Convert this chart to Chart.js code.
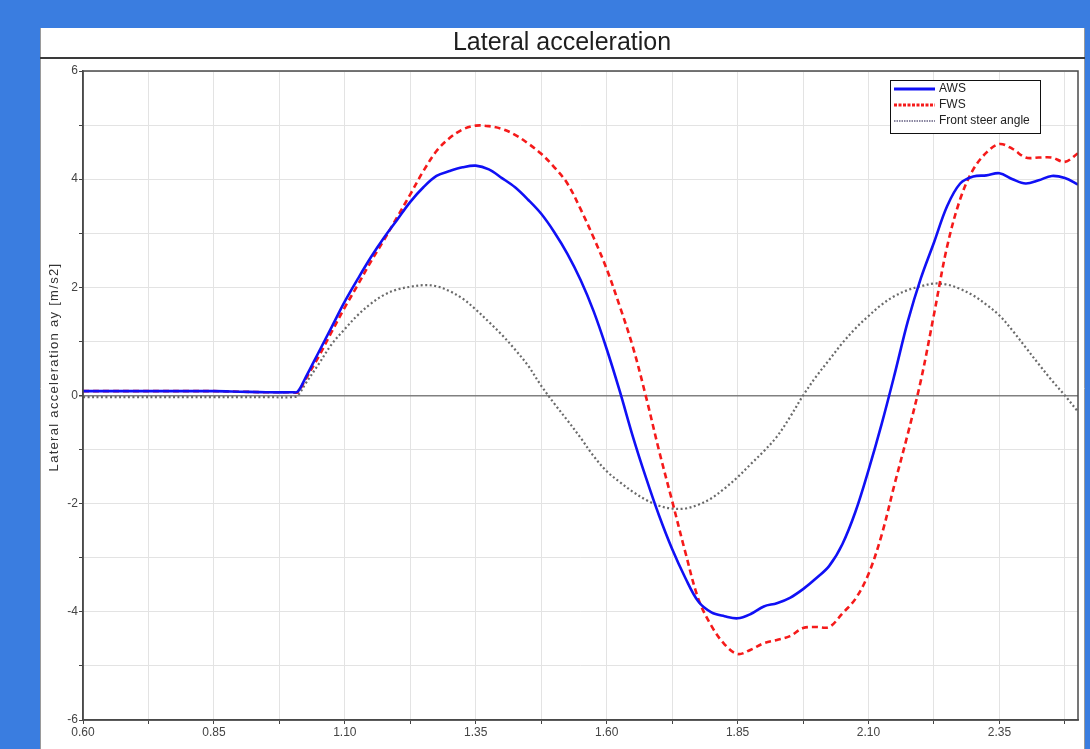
<!DOCTYPE html>
<html><head><meta charset="utf-8">
<script src="https://cdn.jsdelivr.net/npm/chart.js@4.4.1/dist/chart.umd.min.js"></script>
<style>html,body{margin:0;padding:0;background:#3a7de0;overflow:hidden}canvas{display:block}</style>
</head><body><canvas id="c" width="1090" height="749"></canvas>
<script>
const chartTitle = 'Lateral acceleration';
const yTitle = 'Lateral acceleration ay [m/s2]';
const xTitle = 'Time [s]';
const seriesLabels = ['AWS', 'FWS', 'Front steer angle'];

const time = [0.60,0.65,0.70,0.75,0.80,0.85,0.90,0.95,1.00,1.01,
  1.025,1.05,1.075,1.10,1.125,1.15,1.175,1.20,1.225,1.25,
  1.275,1.30,1.325,1.35,1.375,1.40,1.425,1.45,1.475,1.50,
  1.525,1.55,1.575,1.60,1.625,1.65,1.675,1.70,1.725,1.75,
  1.775,1.80,1.825,1.85,1.875,1.90,1.925,1.95,1.975,2.00,
  2.025,2.05,2.075,2.10,2.125,2.15,2.175,2.20,2.225,2.25,
  2.275,2.30,2.325,2.35,2.375,2.40,2.425,2.45,2.475,2.50];

const aws = [0.08,0.08,0.08,0.08,0.08,0.08,0.07,0.06,0.06,0.07,
  0.33,0.80,1.27,1.74,2.16,2.56,2.92,3.25,3.58,3.85,
  4.06,4.15,4.22,4.25,4.18,4.02,3.85,3.62,3.36,3.02,
  2.62,2.14,1.56,0.86,0.08,-0.76,-1.52,-2.22,-2.84,-3.37,
  -3.81,-4.01,-4.08,-4.12,-4.04,-3.90,-3.84,-3.74,-3.58,-3.38,
  -3.15,-2.75,-2.15,-1.38,-0.53,0.40,1.37,2.17,2.83,3.50,
  3.92,4.05,4.07,4.11,4.00,3.92,3.98,4.06,4.02,3.90];

const fws = [0.08,0.08,0.08,0.08,0.08,0.08,0.07,0.06,0.06,0.06,
  0.30,0.72,1.18,1.63,2.05,2.48,2.88,3.30,3.72,4.15,
  4.52,4.76,4.92,4.99,4.98,4.93,4.82,4.66,4.47,4.22,
  3.92,3.45,2.92,2.34,1.65,0.90,-0.02,-1.02,-1.95,-2.89,
  -3.76,-4.26,-4.60,-4.78,-4.70,-4.58,-4.52,-4.45,-4.30,-4.28,
  -4.28,-4.03,-3.76,-3.30,-2.58,-1.63,-0.71,0.28,1.50,2.75,
  3.63,4.18,4.49,4.65,4.56,4.40,4.40,4.40,4.32,4.48];

const steer = [-0.03,-0.03,-0.03,-0.03,-0.03,-0.03,-0.03,-0.03,-0.03,0.00,
  0.22,0.58,0.95,1.23,1.49,1.70,1.86,1.96,2.01,2.04,
  2.02,1.93,1.79,1.59,1.36,1.12,0.85,0.55,0.18,-0.15,
  -0.46,-0.78,-1.12,-1.40,-1.60,-1.78,-1.93,-2.04,-2.09,-2.09,
  -2.02,-1.90,-1.72,-1.51,-1.27,-1.03,-0.76,-0.40,0.00,0.35,
  0.66,0.97,1.24,1.47,1.68,1.84,1.95,2.02,2.07,2.05,
  1.97,1.85,1.68,1.48,1.20,0.89,0.58,0.28,0.00,-0.30];

const xTicks = [0.600,0.725,0.850,0.975,1.100,1.225,1.350,1.475,1.600,1.725,1.850,1.975,2.100,2.225,2.350,2.475];
const xLabels = ['0.60','0.85','1.10','1.35','1.60','1.85','2.10','2.35'];
const yTicks = [-6,-5,-4,-3,-2,-1,0,1,2,3,4,5,6];

const FONT = "'Liberation Sans', Arial, sans-serif";

const pts = arr => time.map((t, i) => ({x: t, y: arr[i]}));

const panelPlugin = {
  id: 'panel',
  beforeDraw(chart) {
    const c = chart.ctx;
    c.save();
    c.fillStyle = '#3a7de0';
    c.fillRect(0, 0, 1090, 749);
    c.fillStyle = '#ffffff';
    c.fillRect(40, 28, 1045, 721);
    c.strokeStyle = '#9a9a9a';
    c.lineWidth = 1;
    c.beginPath();
    c.moveTo(40.5, 28); c.lineTo(40.5, 749);
    c.moveTo(1084.5, 28); c.lineTo(1084.5, 749);
    c.stroke();
    c.strokeStyle = '#3a3a3a';
    c.lineWidth = 2;
    c.beginPath();
    c.moveTo(40, 58); c.lineTo(1085, 58);
    c.stroke();
    c.fillStyle = '#1e1e1e';
    c.font = '25px ' + FONT;
    c.textAlign = 'center';
    c.textBaseline = 'middle';
    c.fillText(chartTitle, 562, 43);
    c.restore();
  },
  afterDraw(chart) {
    const c = chart.ctx;
    const a = chart.chartArea;
    c.save();
    c.strokeStyle = '#4a4a4a';
    c.lineWidth = 1.5;
    c.strokeRect(a.left, a.top, a.right - a.left, a.bottom - a.top);
    c.fillStyle = '#333';
    c.font = '13px ' + FONT;
    c.textAlign = 'center';
    c.textBaseline = 'middle';
    c.save();
    c.translate(54, 367);
    c.rotate(-Math.PI / 2);
    try { c.letterSpacing = '1.3px'; } catch (e) {}
    c.fillText(yTitle, 0, 0);
    c.restore();
    c.fillText(xTitle, (a.left + a.right) / 2, 757);
    const bx = 890, by = 80, bw = 150, bh = 53;
    c.fillStyle = '#fff';
    c.fillRect(bx, by, bw, bh);
    c.strokeStyle = '#111';
    c.lineWidth = 1;
    c.strokeRect(bx + 0.5, by + 0.5, bw, bh);
    const rows = [89, 105, 121];
    chart.data.datasets.forEach((ds, i) => {
      const y = rows[i];
      c.save();
      c.strokeStyle = ds.borderColor;
      c.lineWidth = i === 2 ? 2 : 3;
      c.setLineDash(i === 0 ? [] : (i === 1 ? [3, 1.5] : [1.5, 1]));
      if (i === 2) c.strokeStyle = '#8a86a0';
      c.beginPath();
      c.moveTo(894, y); c.lineTo(935, y);
      c.stroke();
      c.restore();
      c.fillStyle = '#222';
      c.font = '12px ' + FONT;
      c.textAlign = 'left';
      c.textBaseline = 'middle';
      c.fillText(ds.label, 939, y);
    });
    c.restore();
  }
};

new Chart(document.getElementById('c'), {
  type: 'line',
  data: {
    datasets: [
      {label: seriesLabels[0], data: pts(aws), borderColor: '#1010f5', borderWidth: 2.6, pointRadius: 0, tension: 0.35, order: 1},
      {label: seriesLabels[1], data: pts(fws), borderColor: '#f51a1a', borderWidth: 2.6, borderDash: [6, 4], pointRadius: 0, tension: 0.35, order: 2},
      {label: seriesLabels[2], data: pts(steer), borderColor: '#6a6a6a', borderWidth: 2.2, borderDash: [2, 2.5], pointRadius: 0, tension: 0.35, order: 3}
    ]
  },
  options: {
    responsive: false,
    animation: false,
    devicePixelRatio: 1,
    layout: {padding: {left: 40, top: 71, right: 12, bottom: 0}},
    plugins: {legend: {display: false}, title: {display: false}, tooltip: {enabled: false}},
    scales: {
      x: {
        type: 'linear', min: 0.6, max: 2.5,
        afterBuildTicks: s => { s.ticks = xTicks.map(v => ({value: v})); },
        afterFit: s => { s.height = 29; },
        ticks: {autoSkip: false, maxRotation: 0, minRotation: 0, padding: 1, color: '#444',
          font: {family: FONT, size: 12},
          callback: (v, i) => (i % 2 === 0 ? xLabels[i / 2] : '')},
        grid: {color: '#e3e3e3', lineWidth: 1, tickColor: '#444', tickLength: 4},
        border: {display: true, color: '#4a4a4a', width: 1.5}
      },
      y: {
        type: 'linear', min: -6, max: 6,
        afterBuildTicks: s => { s.ticks = yTicks.map(v => ({value: v})); },
        afterFit: s => { s.width = 43; },
        ticks: {padding: 1, color: '#444', font: {family: FONT, size: 12},
          callback: v => (v % 2 === 0 ? String(v) : '')},
        grid: {
          color: ctx => (ctx.tick && ctx.tick.value === 0 ? '#808080' : '#e3e3e3'),
          lineWidth: ctx => (ctx.tick && ctx.tick.value === 0 ? 1.5 : 1),
          tickColor: '#444', tickLength: 4
        },
        border: {display: true, color: '#4a4a4a', width: 1.5}
      }
    }
  },
  plugins: [panelPlugin]
});
</script>
</body></html>
